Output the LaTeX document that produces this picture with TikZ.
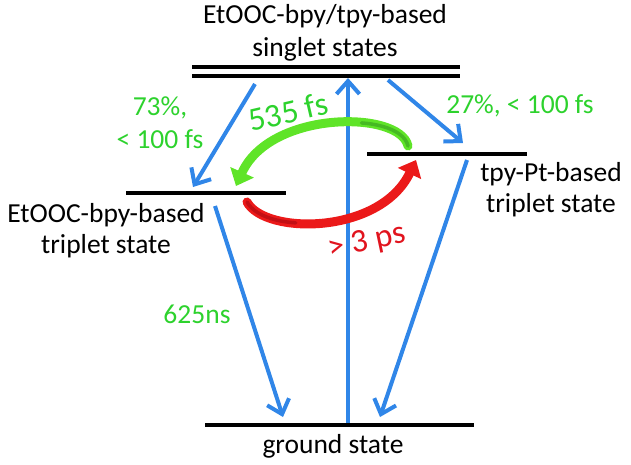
\documentclass[tikz,border=0pt]{standalone}
\usepackage{fontspec}
\setmainfont{Carlito}
\usetikzlibrary{arrows.meta}
\definecolor{levelblue}{RGB}{48,134,232}
\definecolor{labgreen}{RGB}{45,210,45}
\definecolor{arrgreen}{RGB}{95,228,40}
\definecolor{arrgreendark}{RGB}{70,185,35}
\definecolor{labred}{RGB}{225,20,30}
\definecolor{arrred}{RGB}{235,25,25}
\definecolor{arrreddark}{RGB}{195,15,20}
\tikzset{
  level/.style={line width=4pt},
  trans/.style={levelblue, line width=4pt, -{Straight Barb[length=13pt,width=23pt]}},
  txt/.style={font=\fontsize{27.5}{31}\selectfont, inner sep=0pt, align=center},
  gtxt/.style={txt, text=labgreen},
  bigtxt/.style={font=\fontsize{33}{36}\selectfont, inner sep=0pt},
  greenarrow/.style={arrgreen, line width=9pt, line cap=round, -{Triangle[length=15pt,width=25pt]}},
  redarrow/.style={arrred, line width=9pt, line cap=round, -{Triangle[length=15pt,width=25pt]}},
  shade/.style={line width=3.5pt, line cap=round, dash pattern=on 55pt off 2000pt},
}
\begin{document}
\begin{tikzpicture}[x=1pt,y=-1pt]
\useasboundingbox (0,0) rectangle (631,464);
% levels
\coordinate (s1L) at (192,67); \coordinate (s1R) at (460,67);
\coordinate (s2L) at (192,76); \coordinate (s2R) at (460,76);
\coordinate (tL1) at (126,193); \coordinate (tL2) at (286,193);
\coordinate (tR1) at (367,154); \coordinate (tR2) at (527,154);
\coordinate (g1) at (205,425); \coordinate (g2) at (474,425);
\draw[level] (s1L) -- (s1R);
\draw[level] (s2L) -- (s2R);
\draw[level] (tL1) -- (tL2);
\draw[level] (tR1) -- (tR2);
\draw[level] (g1) -- (g2);
% transition end points
\coordinate (a1s) at (255,84);  \coordinate (a1e) at (193,187);
\coordinate (a2s) at (388,80);  \coordinate (a2e) at (463,143);
\coordinate (a3s) at (348,423); \coordinate (a3e) at (348,78);
\coordinate (a4s) at (215,206); \coordinate (a4e) at (283,417);
\coordinate (a5s) at (467,160); \coordinate (a5e) at (380,417);
\draw[trans] (a1s) -- (a1e);
\draw[trans] (a2s) -- (a2e);
\draw[trans] (a3s) -- (a3e);
\draw[trans] (a4s) -- (a4e);
\draw[trans] (a5s) -- (a5e);
% curved arrows
\coordinate (gs) at (408,146); \coordinate (ge) at (236,186);
\coordinate (rs) at (247,202); \coordinate (re) at (416,160);
\draw[greenarrow] (gs) .. controls (400,110) and (270,110) .. (ge);
\draw[shade, arrgreendark] (gs) .. controls (400,110) and (270,110) .. (ge);
\draw[redarrow] (rs) .. controls (265,235) and (380,235) .. (re);
\draw[shade, arrreddark] (rs) .. controls (265,235) and (380,235) .. (re);
% labels
\node[txt, anchor=base] (title) at (325,56) {EtOOC-bpy/tpy-based\\[2pt]singlet states};
\node[txt, anchor=base] (leftlab) at (106,253) {EtOOC-bpy-based\\triplet state};
\node[txt, anchor=base] (rightlab) at (551,212) {tpy-Pt-based\\triplet state};
\node[txt, anchor=base] (ground) at (333,453) {ground state};
\node[gtxt, anchor=base] (p73) at (160,148) {73\%,\\[2pt]{< 100 fs}};
\node[gtxt, anchor=base] (p27) at (520,113) {27\%, < 100 fs};
\node[gtxt, anchor=base] (ns) at (197,323) {625ns};
\node[bigtxt, text=labgreen, rotate=13] (fs535) at (288,112) {535 fs};
\node[bigtxt, text=labred, rotate=12] (ps3) at (367,242) {> 3 ps};
\end{tikzpicture}
\end{document}
